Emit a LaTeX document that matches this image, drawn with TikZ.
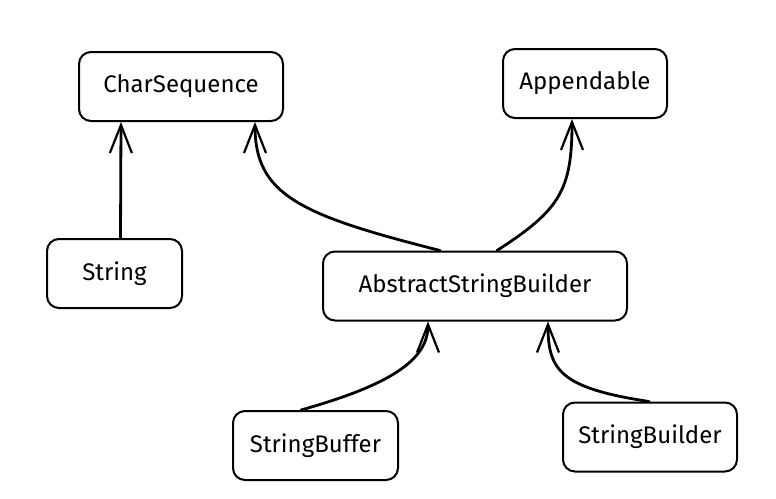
\documentclass[tikz,border=0pt]{standalone}
\usepackage{fontspec}
\setmainfont{Fira Sans}
\usetikzlibrary{arrows.meta}

\begin{document}
\begin{tikzpicture}[x=1pt,y=-1pt,
    cls/.style={draw, rounded corners=12pt, line width=2pt, minimum height=69pt,
      inner sep=0pt, font=\fontsize{24}{28}\selectfont},
    inh/.style={line width=2.8pt, line cap=round,
      -{Straight Barb[length=28pt,width=22pt,line width=2.2pt]}}]
    \useasboundingbox (0,0) rectangle (776,498);
    % classes and interfaces
    \node[cls, minimum width=204pt] (charseq) at (181,86.5) {CharSequence};
    \node[cls, minimum width=164pt] (append) at (585,83.5) {Appendable};
    \node[cls, minimum width=135pt] (string) at (114.5,273.5) {String};
    \node[cls, minimum width=304pt] (asb) at (475,286) {AbstractStringBuilder};
    \node[cls, minimum width=165pt] (sbuffer) at (315.5,445.5) {StringBuffer};
    \node[cls, minimum width=174pt] (sbuilder) at (650,437) {StringBuilder};
    % inheritance arrows
    \draw[inh] ([xshift=6pt]string.north) -- ([xshift=-60pt]charseq.south);
    \draw[inh] ([xshift=-35pt]asb.north) .. controls (300,215) and (255,195) .. ([xshift=74pt]charseq.south);
    \draw[inh] ([xshift=22pt]asb.north) .. controls (560,210) and (572,190) .. ([xshift=-13pt]append.south);
    \draw[inh] ([xshift=-14.5pt]sbuffer.north) .. controls (390,385) and (428,360) .. ([xshift=-47pt]asb.south);
    \draw[inh] ([xshift=-1pt]sbuilder.north) .. controls (560,388) and (548,370) .. ([xshift=73pt]asb.south);
\end{tikzpicture}
\end{document}
